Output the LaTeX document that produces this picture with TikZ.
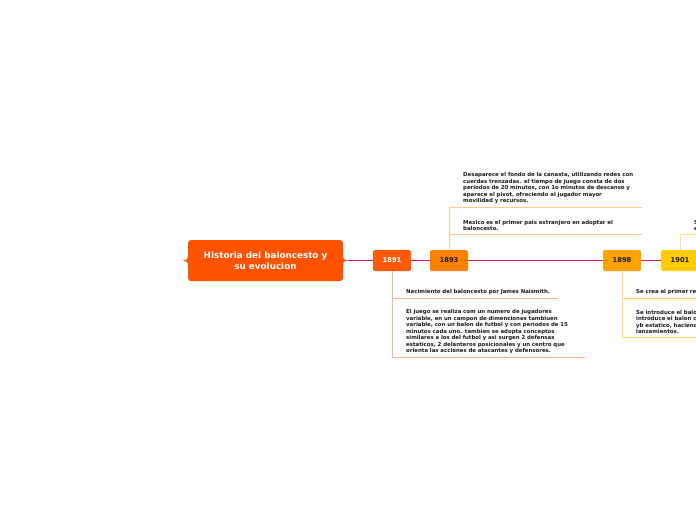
\documentclass[tikz,border=0pt]{standalone}
\usepackage{fontspec}
\setmainfont{DejaVu Sans}
\usepackage{xcolor}
\usepackage{tikz}
\usetikzlibrary{calc,positioning}
\definecolor{rootc}{HTML}{FF5200}
\definecolor{linec}{HTML}{EC1763}
\definecolor{yrA}{HTML}{FF5A0A}
\definecolor{yrB}{HTML}{FF7F00}
\definecolor{yrC}{HTML}{FFA300}
\definecolor{yrD}{HTML}{FFCB00}
\definecolor{brA}{HTML}{FFB293}
\definecolor{brB}{HTML}{FFC896}
\definecolor{brC}{HTML}{FFD27A}
\definecolor{brD}{HTML}{FFE27A}
\definecolor{txtc}{HTML}{1A1A1A}
\tikzset{
  mainline/.style={linec,line width=1.8pt},
  root/.style={fill=rootc,rounded corners=3pt,minimum width=155pt,minimum height=41pt,
    text=white,align=center,font=\fontsize{8.8}{11}\selectfont\bfseries,inner sep=0pt},
  year/.style={rounded corners=1.5pt,minimum width=38pt,minimum height=21pt,inner sep=0pt,
    font=\fontsize{6.7}{7.5}\selectfont\bfseries,text=txtc},
  topic/.style={align=left,inner xsep=0pt,inner ysep=3pt,text=txtc,
    font=\fontsize{5.4}{6.5}\selectfont\bfseries},
  br/.style={line width=0.8pt}
}
\begin{document}
\begin{tikzpicture}[x=1pt,y=-1pt]
\useasboundingbox (0,0) rectangle (696,520);

% centro
\node[root] (hist) at (265.5,260.5) {Historia del baloncesto y\\su evolucion};
\fill[rootc] ([yshift=6pt]hist.west) .. controls ([yshift=1pt]hist.west) .. ([xshift=-5pt]hist.west)
  .. controls ([yshift=-1pt]hist.west) .. ([yshift=-6pt]hist.west) -- cycle;
\fill[rootc] ([yshift=6pt]hist.east) .. controls ([yshift=1pt]hist.east) .. ([xshift=5pt]hist.east)
  .. controls ([yshift=-1pt]hist.east) .. ([yshift=-6pt]hist.east) -- cycle;

% linea de tiempo
\node[year,fill=yrA,text=white] (y91) at (392,260.5) {1891};
\node[year,fill=yrB] (y93) at (449,260.5) {1893};
\node[year,fill=yrC] (y98) at (622,260.5) {1898};
\node[year,fill=yrD] (y01) at (680,260.5) {1901};
\coordinate (tend) at (700,260.5);
\draw[mainline] ([xshift=5pt]hist.east) -- (y91.west);
\draw[mainline] (y91.east) -- (y93.west);
\draw[mainline] (y93.east) -- (y98.west);
\draw[mainline] (y98.east) -- (y01.west);
\draw[mainline] (y01.east) -- (tend);

% 1891
\node[topic,anchor=south west,text width=152pt] (t91a) at (406,298) {Nacimiento del baloncesto por James Naismith.};
\node[topic,anchor=south west,text width=179pt] (t91b) at (406,357) {El juego se realiza com un numero de jugadores\\
variable, en un campon de dimenciones tambiuen\\
variable, con un balon de futbol y con periodos de 15\\
minutos cada uno. tambien se adopta conceptos\\
similares a los del futbol y asi surgen 2 defensas\\
estaticos, 2 delanteros posicionales y un centro que\\
orienta las acciones de atacantes y defensores.};
\draw[br,brA] (y91.south) -- (y91.south |- t91b.south);
\draw[br,brA] (y91.south |- t91a.south) -- (t91a.south east);
\draw[br,brA] (y91.south |- t91b.south) -- (t91b.south east);

% 1893
\node[topic,anchor=south west,text width=179pt] (t93a) at (463,207) {Desaparece el fondo de la canasta, utilizando redes con\\
cuerdas trenzadas. el tiempo de juego consta de dos\\
periodos de 20 minutos, con 1o minutos de descanso y\\
aparece el pivot, ofreciendo al jugador mayor\\
movilidad y recursos.};
\node[topic,anchor=south west,text width=179pt] (t93b) at (463,234) {Mexico es el primer pais extranjero en adoptar el\\
baloncesto.};
\draw[br,brB] (y93.north) -- (y93.north |- t93a.south);
\draw[br,brB] (y93.north |- t93a.south) -- (t93a.south east);
\draw[br,brB] (y93.north |- t93b.south) -- (t93b.south east);

% 1898
\node[topic,anchor=south west,text width=150pt] (t98a) at (636,298) {Se crea el primer reglamento.};
\node[topic,anchor=south west,text width=150pt] (t98b) at (636,337) {Se introduce el balon de cuero\\
introduce el balon con\\
yb estatico, haciendo\\
lanzamientos.};
\draw[br,brC] (y98.south) -- (y98.south |- t98b.south);
\draw[br,brC] (y98.south |- t98a.south) -- (t98a.south east);
\draw[br,brC] (y98.south |- t98b.south) -- (t98b.south east);

% 1901
\node[topic,anchor=south west,text width=100pt] (t01a) at (694,234) {Se\\en};
\draw[br,brD] (y01.north) -- (y01.north |- t01a.south);
\draw[br,brD] (y01.north |- t01a.south) -- (t01a.south east);
\end{tikzpicture}
\end{document}
